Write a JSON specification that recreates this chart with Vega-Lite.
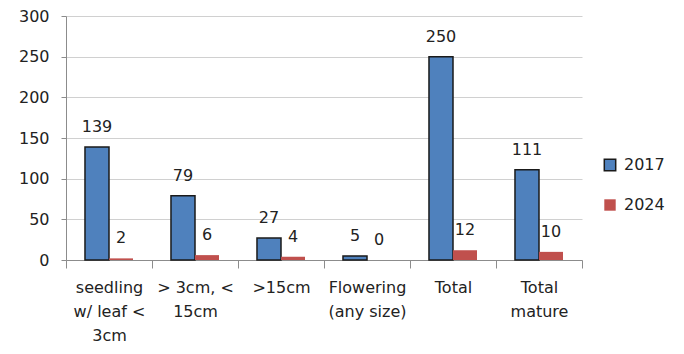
{
  "$schema": "https://vega.github.io/schema/vega-lite/v6.json",
  "width": 516,
  "height": 244,
  "autosize": {"type": "none"},
  "padding": {"left": 66, "top": 16, "right": 102, "bottom": 94},
  "background": "white",
  "config": {
    "view": {"stroke": null},
    "font": "DejaVu Sans",
    "axis": {"labelFont": "DejaVu Sans", "labelFontSize": 16, "labelColor": "#222222", "domainColor": "#8c8c8c", "tickColor": "#8c8c8c", "title": null},
    "legend": {"labelFont": "DejaVu Sans", "labelFontSize": 16, "labelColor": "#222222"}
  },
  "data": {
    "values": [
      {"category": "seedling w/ leaf < 3cm", "year": "2017", "count": 139},
      {"category": "seedling w/ leaf < 3cm", "year": "2024", "count": 2},
      {"category": "> 3cm, < 15cm", "year": "2017", "count": 79},
      {"category": "> 3cm, < 15cm", "year": "2024", "count": 6},
      {"category": ">15cm", "year": "2017", "count": 27},
      {"category": ">15cm", "year": "2024", "count": 4},
      {"category": "Flowering (any size)", "year": "2017", "count": 5},
      {"category": "Flowering (any size)", "year": "2024", "count": 0},
      {"category": "Total", "year": "2017", "count": 250},
      {"category": "Total", "year": "2024", "count": 12},
      {"category": "Total mature", "year": "2017", "count": 111},
      {"category": "Total mature", "year": "2024", "count": 10}
    ]
  },
  "encoding": {
    "x": {
      "field": "category", "type": "nominal", "sort": null,
      "scale": {"paddingInner": 0, "paddingOuter": 0},
      "axis": {
        "labelAngle": 0, "tickBand": "extent", "tickSize": 8, "labelPadding": 11,
        "labelLineHeight": 24, "labelBaseline": "top",
        "labelExpr": "datum.label == 'seedling w/ leaf < 3cm' ? ['seedling', 'w/ leaf <', '3cm'] : datum.label == '> 3cm, < 15cm' ? ['> 3cm, <', '15cm'] : datum.label == 'Flowering (any size)' ? ['Flowering', '(any size)'] : datum.label == 'Total mature' ? ['Total', 'mature'] : datum.label"
      }
    },
    "xOffset": {"field": "year", "type": "nominal", "scale": {"paddingInner": 0, "paddingOuter": 0.79}},
    "y": {
      "field": "count", "type": "quantitative",
      "scale": {"domain": [0, 300], "nice": false},
      "axis": {"values": [0, 50, 100, 150, 200, 250, 300], "tickSize": 5, "labelPadding": 12, "gridColor": "#d0d0d0", "gridWidth": 1}
    }
  },
  "layer": [
    {
      "mark": {"type": "bar", "strokeWidth": 1.5},
      "encoding": {
        "color": {"field": "year", "type": "nominal", "scale": {"range": ["#4F81BD", "#C0504D"]},
          "legend": {"title": null, "orient": "none", "legendX": 536, "legendY": 141, "symbolType": "square", "symbolSize": 130, "rowPadding": 22, "labelOffset": 6, "symbolStrokeWidth": 1.5}},
        "stroke": {"field": "year", "type": "nominal", "scale": {"range": ["#1a1a1a", "transparent"]}}
      }
    },
    {
      "mark": {"type": "text", "dy": -20, "fontSize": 16, "color": "#222222", "font": "DejaVu Sans"},
      "encoding": {"text": {"field": "count", "type": "quantitative"}}
    }
  ]
}
